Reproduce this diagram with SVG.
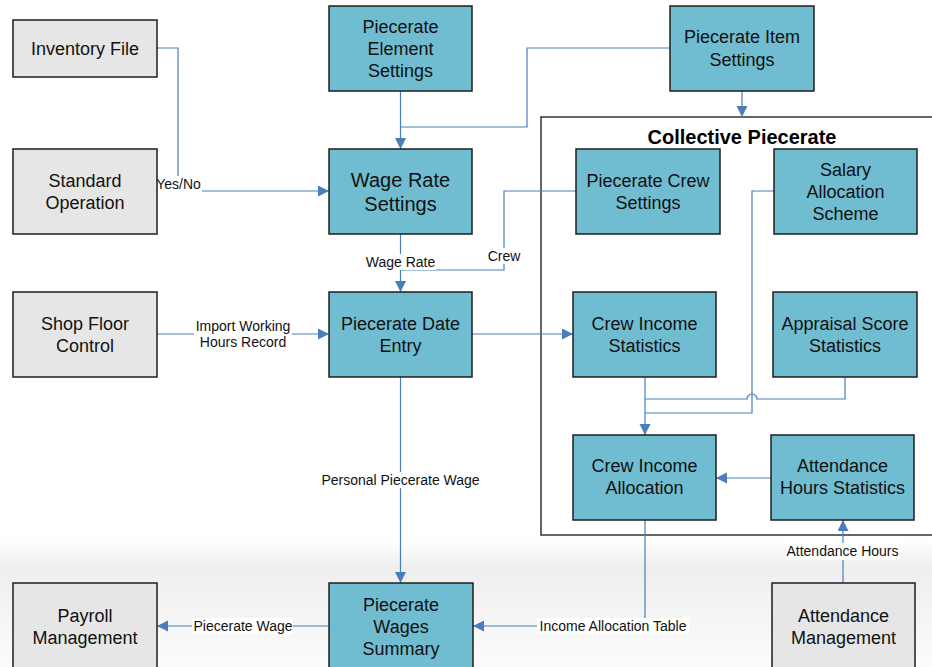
<svg xmlns="http://www.w3.org/2000/svg" width="932" height="667" viewBox="0 0 932 667">
<defs>
<linearGradient id="bg" x1="0" y1="0" x2="0" y2="1">
<stop offset="0" stop-color="#ffffff"/>
<stop offset="0.22" stop-color="#eeeeee"/>
<stop offset="1" stop-color="#fcfcfc"/>
</linearGradient>
<marker id="arr" markerUnits="userSpaceOnUse" markerWidth="12" markerHeight="12" refX="11" refY="5.5" orient="auto">
<path d="M0,0 L11,5.5 L0,11 Z" fill="#4a7ebb"/>
</marker>
</defs>
<style>
.teal{fill:#70bdd1;stroke:#1e1e1e;stroke-width:1.5}
.grey{fill:#e6e6e6;stroke:#1e1e1e;stroke-width:1.5}
.nt{font-family:"Liberation Sans",Arial,sans-serif;font-size:18px;fill:#111;text-anchor:middle}
.big{font-size:20px}
.conn{fill:none;stroke:#4a7ebb;stroke-width:1.2}
.lbg{fill:#ffffff}
.lt{font-family:"Liberation Sans",Arial,sans-serif;font-size:14px;fill:#111;text-anchor:middle}
.title{font-family:"Liberation Sans",Arial,sans-serif;font-size:20px;font-weight:bold;fill:#000;text-anchor:middle}
</style>
<rect x="0" y="0" width="932" height="667" fill="#ffffff"/>
<rect x="0" y="540" width="932" height="127" fill="url(#bg)"/>

<g id="collective-piecerate">
<rect x="541" y="117" width="400" height="418" fill="none" stroke="#333333" stroke-width="1.5"/>
<text class="title" x="742" y="144">Collective Piecerate</text>
</g>

<g id="connectors">
<path class="conn" d="M157,48 H178 V191"/>
<path class="conn" d="M157,191 H329" marker-end="url(#arr)"/>
<path class="conn" d="M400.5,91 V149" marker-end="url(#arr)"/>
<path class="conn" d="M670,48 H527 V127 H400.5"/>
<path class="conn" d="M742,91 V117" marker-end="url(#arr)"/>
<path class="conn" d="M400.5,234 V292" marker-end="url(#arr)"/>
<path class="conn" d="M576,191 H504 V270 H400.5"/>
<path class="conn" d="M157,334 H329" marker-end="url(#arr)"/>
<path class="conn" d="M472,334 H573" marker-end="url(#arr)"/>
<path class="conn" d="M774,191 H752 V413 H645"/>
<path class="conn" d="M645,377 V435" marker-end="url(#arr)"/>
<path class="conn" d="M845,377 V399 H757 A5,5 0 0 0 747,399 H645"/>
<path class="conn" d="M771,478 H716" marker-end="url(#arr)"/>
<path class="conn" d="M645,520 V626 H473" marker-end="url(#arr)"/>
<path class="conn" d="M843,583 V520" marker-end="url(#arr)"/>
<path class="conn" d="M400.5,377 V583" marker-end="url(#arr)"/>
<path class="conn" d="M329,626 H157" marker-end="url(#arr)"/>

<rect class="lbg" x="155" y="176" width="47" height="16"/>
<text class="lt" x="178.5" y="189">Yes/No</text>
<rect class="lbg" x="365" y="254" width="71" height="16"/>
<text class="lt" x="400.5" y="267">Wage Rate</text>
<rect class="lbg" x="487" y="248" width="34" height="16"/>
<text class="lt" x="504" y="261">Crew</text>
<rect class="lbg" x="194" y="318" width="98" height="33"/>
<text class="lt" x="243" y="331">Import Working</text>
<text class="lt" x="243" y="347">Hours Record</text>
<rect class="lbg" x="320" y="472" width="161" height="16"/>
<text class="lt" x="400.5" y="485">Personal Piecerate Wage</text>
<rect class="lbg" x="192" y="618" width="101" height="16"/>
<text class="lt" x="243" y="631">Piecerate Wage</text>
<rect class="lbg" x="537" y="618" width="152" height="16"/>
<text class="lt" x="613" y="631">Income Allocation Table</text>
<rect class="lbg" x="786" y="543" width="113" height="17"/>
<text class="lt" x="842.5" y="556">Attendance Hours</text>
</g>

<g id="inventory-file">
<rect class="grey" x="13" y="20" width="144" height="57"/>
<text class="nt" x="85" y="55">Inventory File</text>
</g>
<g id="standard-operation">
<rect class="grey" x="13" y="149" width="144" height="85"/>
<text class="nt" x="85" y="186.5">Standard<tspan x="85" dy="22">Operation</tspan></text>
</g>
<g id="piecerate-element-settings">
<rect class="teal" x="329" y="6" width="143" height="85"/>
<text class="nt" x="400.5" y="32.5">Piecerate<tspan x="400.5" dy="22">Element</tspan><tspan x="400.5" dy="22">Settings</tspan></text>
</g>
<g id="piecerate-item-settings">
<rect class="teal" x="670" y="6" width="144" height="85"/>
<text class="nt" x="742" y="43">Piecerate Item<tspan x="742" dy="22.5">Settings</tspan></text>
</g>
<g id="wage-rate-settings">
<rect class="teal" x="329" y="149" width="143" height="85"/>
<text class="nt big" x="400.5" y="187">Wage Rate<tspan x="400.5" dy="23.5">Settings</tspan></text>
</g>
<g id="piecerate-crew-settings">
<rect class="teal" x="576" y="149" width="144" height="85"/>
<text class="nt" x="648" y="186.5">Piecerate Crew<tspan x="648" dy="22">Settings</tspan></text>
</g>
<g id="salary-allocation-scheme">
<rect class="teal" x="774" y="149" width="143" height="85"/>
<text class="nt" x="845.5" y="175.5">Salary<tspan x="845.5" dy="22">Allocation</tspan><tspan x="845.5" dy="22">Scheme</tspan></text>
</g>
<g id="shop-floor-control">
<rect class="grey" x="13" y="292" width="144" height="85"/>
<text class="nt" x="85" y="329.5">Shop Floor<tspan x="85" dy="22">Control</tspan></text>
</g>
<g id="piecerate-date-entry">
<rect class="teal" x="329" y="292" width="143" height="85"/>
<text class="nt" x="400.5" y="329.5">Piecerate Date<tspan x="400.5" dy="22">Entry</tspan></text>
</g>
<g id="crew-income-statistics">
<rect class="teal" x="573" y="292" width="143" height="85"/>
<text class="nt" x="644.5" y="329.5">Crew Income<tspan x="644.5" dy="22">Statistics</tspan></text>
</g>
<g id="appraisal-score-statistics">
<rect class="teal" x="773" y="292" width="144" height="85"/>
<text class="nt" x="845" y="329.5">Appraisal Score<tspan x="845" dy="22">Statistics</tspan></text>
</g>
<g id="crew-income-allocation">
<rect class="teal" x="573" y="435" width="143" height="85"/>
<text class="nt" x="644.5" y="472">Crew Income<tspan x="644.5" dy="22">Allocation</tspan></text>
</g>
<g id="attendance-hours-statistics">
<rect class="teal" x="771" y="435" width="143" height="85"/>
<text class="nt" x="842.5" y="472">Attendance<tspan x="842.5" dy="22">Hours Statistics</tspan></text>
</g>
<g id="payroll-management">
<rect class="grey" x="13" y="583" width="144" height="85"/>
<text class="nt" x="85" y="621.5">Payroll<tspan x="85" dy="22">Management</tspan></text>
</g>
<g id="piecerate-wages-summary">
<rect class="teal" x="329" y="583" width="144" height="85"/>
<text class="nt" x="401" y="610.5">Piecerate<tspan x="401" dy="22">Wages</tspan><tspan x="401" dy="22">Summary</tspan></text>
</g>
<g id="attendance-management">
<rect class="grey" x="772" y="583" width="143" height="85"/>
<text class="nt" x="843.5" y="621.5">Attendance<tspan x="843.5" dy="22">Management</tspan></text>
</g>
</svg>
